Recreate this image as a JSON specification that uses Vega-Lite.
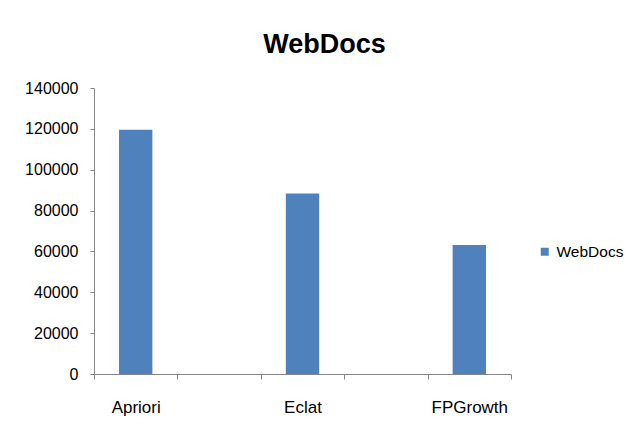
{
  "$schema": "https://vega.github.io/schema/vega-lite/v6.json",
  "width": 417,
  "height": 286,
  "autosize": "none",
  "padding": {"left": 94, "top": 88, "right": 126, "bottom": 63},
  "background": "white",
  "title": {
    "text": "WebDocs",
    "font": "Liberation Sans",
    "fontSize": 27,
    "fontWeight": "bold",
    "color": "#000000",
    "anchor": "middle",
    "frame": "group",
    "baseline": "alphabetic",
    "offset": 0,
    "dx": 22
  },
  "data": {
    "values": [
      {"algorithm": "Apriori", "time": 119600, "series": "WebDocs"},
      {"algorithm": "Eclat", "time": 88300, "series": "WebDocs"},
      {"algorithm": "FPGrowth", "time": 63200, "series": "WebDocs"}
    ]
  },
  "mark": {"type": "bar", "width": {"band": 0.4}},
  "encoding": {
    "x": {
      "field": "algorithm",
      "type": "nominal",
      "sort": null,
      "scale": {
        "domain": ["Apriori", "gap1", "Eclat", "gap2", "FPGrowth"],
        "paddingInner": 0,
        "paddingOuter": 0
      },
      "axis": {
        "title": null,
        "labelAngle": 0,
        "labelExpr": "indexof(['gap1', 'gap2'], datum.value) >= 0 ? '' : datum.value",
        "labelFont": "Liberation Sans",
        "labelFontSize": 17,
        "labelColor": "#000000",
        "labelPadding": 20,
        "tickBand": "extent",
        "tickSize": 5,
        "tickColor": "#868686",
        "domainColor": "#868686",
        "grid": false
      }
    },
    "y": {
      "field": "time",
      "type": "quantitative",
      "scale": {"domain": [0, 140000], "nice": false},
      "axis": {
        "title": null,
        "values": [0, 20000, 40000, 60000, 80000, 100000, 120000, 140000],
        "format": "d",
        "labelFont": "Liberation Sans",
        "labelFontSize": 16,
        "labelColor": "#000000",
        "labelPadding": 12,
        "tickSize": 4,
        "tickColor": "#868686",
        "domainColor": "#868686",
        "grid": false
      }
    },
    "color": {
      "field": "series",
      "type": "nominal",
      "scale": {"range": ["#4F81BD"]},
      "legend": {
        "title": null,
        "orient": "none",
        "legendX": 443,
        "legendY": 156,
        "symbolType": "square",
        "symbolSize": 64,
        "symbolStrokeWidth": 0,
        "labelFont": "Liberation Sans",
        "labelFontSize": 15.5,
        "labelColor": "#000000",
        "labelOffset": 4
      }
    }
  },
  "config": {
    "view": {"stroke": null}
  }
}
